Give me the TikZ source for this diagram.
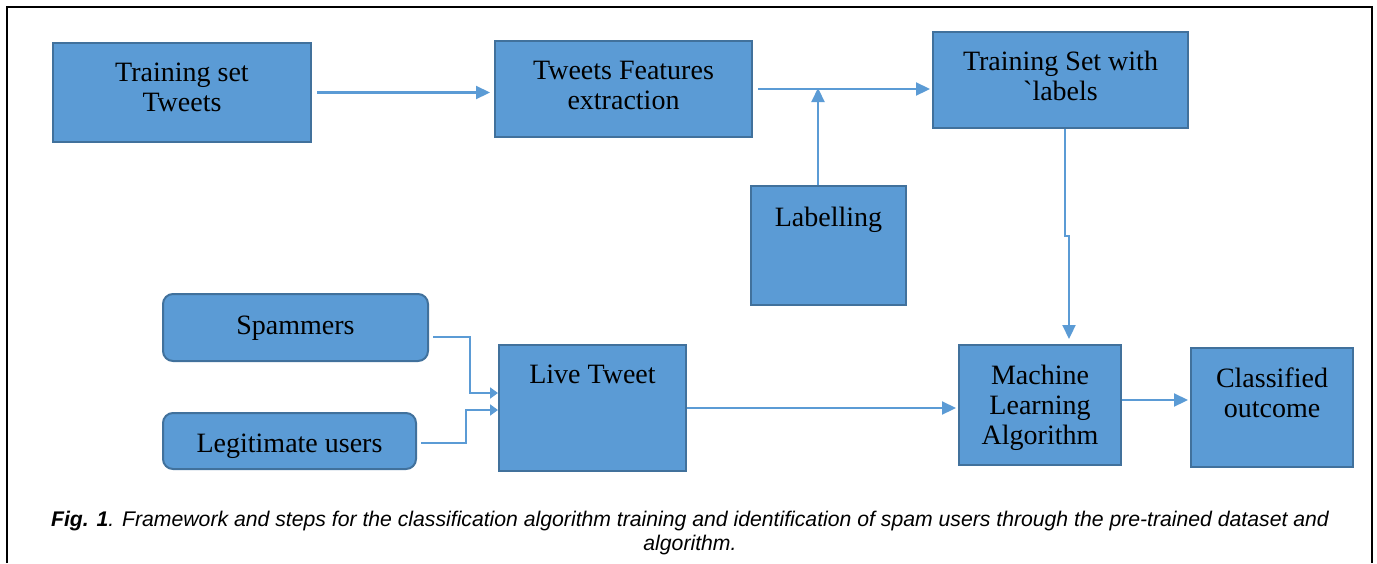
\documentclass[tikz,border=0pt]{standalone}
\usepackage{fontspec}
\setmainfont{Liberation Serif}
\newfontfamily\capfont{Liberation Sans}
\usetikzlibrary{arrows.meta,positioning}
\definecolor{boxcol}{RGB}{91,155,213}
\definecolor{edgecol}{RGB}{65,113,156}
\tikzset{
  arrow/.style={-{Triangle[length=7pt,width=6.5pt]},line width=1.1pt,draw=boxcol},
  smallarrow/.style={-{Triangle[length=4pt,width=5.5pt]},line width=1.1pt,draw=boxcol},
  block/.style={draw=edgecol,fill=boxcol,line width=1pt,align=center,
    font=\fontsize{14}{15}\selectfont,inner sep=0pt},
  softblock/.style={block,rounded corners=5pt}
}
\begin{document}
\begin{tikzpicture}[x=0.5pt,y=-0.5pt]
  \useasboundingbox (0,0) rectangle (1377,563);
  \draw[line width=1pt] (7,563) -- (7,7) -- (1372,7) -- (1372,563);
  % training path
  \node[block,minimum width=129pt,text height=34pt,text depth=15.5pt] (tweets) at (182,92.5) {Training set\\Tweets};
  \node[block,minimum width=128.5pt,text height=34pt,text depth=14pt] (feat) at (623.5,89) {Tweets Features\\extraction};
  \node[block,minimum width=127.5pt,text height=34pt,text depth=14pt] (trset) at (1060.5,80) {Training Set with\\\textasciigrave labels};
  \node[block,minimum width=77.5pt,text height=20pt,text depth=39.5pt] (labelling) at (828.5,245.5) {Labelling};
  \coordinate (join) at (818,88);
  \coordinate (jog) at (1067,236);
  % live path
  \node[softblock,minimum width=132.5pt,text height=20pt,text depth=13.5pt] (spam) at (295.5,327.5) {Spammers};
  \node[softblock,minimum width=126.5pt,text height=19.5pt,text depth=8.5pt] (legit) at (289.5,441) {Legitimate users};
  \node[block,minimum width=93.5pt,text height=19pt,text depth=44pt] (live) at (592.5,408) {Live Tweet};
  \node[block,minimum width=81pt,text height=49.5pt,text depth=10.5pt] (ml) at (1040,405) {Machine\\Learning\\Algorithm};
  \node[block,minimum width=81pt,text height=34.5pt,text depth=25pt] (outcome) at (1272,407.5) {Classified\\outcome};
  \draw[arrow,shorten <=2.5pt,shorten >=2pt] (tweets.east) -- (tweets.east -| feat.west);
  \draw[arrow,shorten <=2.5pt,shorten >=1pt] (feat.east) -- (feat.east -| trset.west);
  \draw[arrow] (labelling.north -| join) -- (join);
  \draw[arrow,shorten >=2.5pt] ([xshift=2.25pt]trset.south) -- ([xshift=2.25pt]trset.south |- jog)
    -- ([xshift=14.5pt]ml.north |- jog) -- ([xshift=14.5pt]ml.north);
  \draw[smallarrow,shorten <=2pt] ([yshift=-4.75pt]spam.east) -- ++(20.5pt,0) |- ([yshift=7.5pt]live.west);
  \draw[smallarrow,shorten <=2pt] ([yshift=-1pt]legit.east) -- ++(24.5pt,0) |- ([yshift=-1pt]live.west);
  \draw[arrow,shorten >=1pt] (live.east) -- (live.east -| ml.west);
  \draw[arrow,shorten >=1pt] ([yshift=2.5pt]ml.east) -- ([yshift=2.5pt]ml.east -| outcome.west);
  \node[font=\capfont\itshape\fontsize{10.6}{12}\selectfont,align=center] (caption) at (690,533)
    {\textbf{Fig. 1}. Framework and steps for the classification algorithm training and identification of spam users through the pre-trained dataset and\\algorithm.};
\end{tikzpicture}
\end{document}
